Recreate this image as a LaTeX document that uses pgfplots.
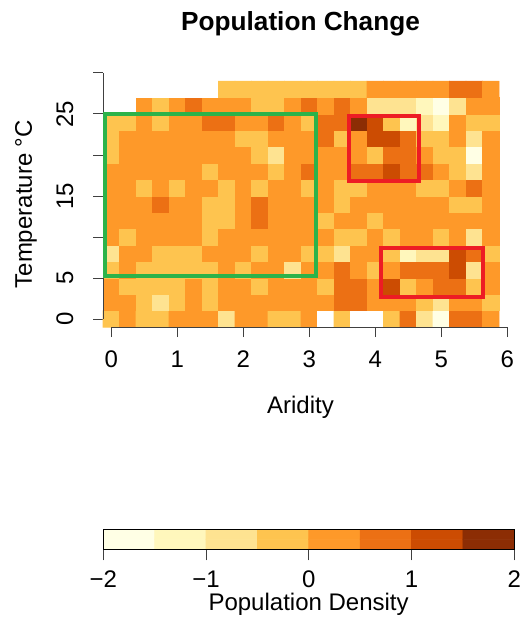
\documentclass[border=0pt]{standalone}
\usepackage{pgfplots}
\pgfplotsset{compat=1.18}
\usepackage{fontspec}
\setmainfont{Liberation Sans}
\definecolor{boxgreen}{RGB}{44,179,74}
\definecolor{boxred}{RGB}{237,28,36}
\pgfplotsset{
  colormap={yob}{rgb255=(255,255,255) rgb255=(255,255,229) rgb255=(255,247,188)
    rgb255=(254,227,145) rgb255=(254,196,79) rgb255=(254,153,41)
    rgb255=(236,112,20) rgb255=(204,76,2) rgb255=(140,45,4)},
}
\newcommand{\lab}{\fontsize{12}{14}\selectfont}
\begin{document}
\begin{tikzpicture}
\path[use as bounding box] (0,0) rectangle (261.5pt,-310.5pt);
% main heat map, 1px = 0.5pt
\begin{axis}[
  at={(51.5pt,-163.6pt)}, anchor=south west,
  x=33pt, y=4.1pt,
  xmin=-0.125, xmax=6, ymin=-1, ymax=30,
  clip=false,
  axis line style={draw=none},
  colormap name=yob,
  xtick={0,...,6}, xticklabels={0,1,2,3,4,5,6},
  ytick={0,5,...,30}, yticklabels={0,5,,15,,25,},
  xtick pos=left, ytick pos=left,
  tick align=outside, major tick length=5pt,
  tick style={black!75, line width=0.5pt},
  every tick label/.append style={font=\lab},
  xticklabel style={anchor=base, yshift=-14.9pt},
  yticklabel style={xshift=-10pt, rotate=90, anchor=base},
]
\addplot[matrix plot*, mesh/cols=24, point meta=explicit, colormap access=direct] coordinates {
(0,0)[4] (0.25,0)[5] (0.5,0)[4] (0.75,0)[4] (1,0)[5] (1.25,0)[5] (1.5,0)[5] (1.75,0)[3] (2,0)[5] (2.25,0)[5] (2.5,0)[4] (2.75,0)[4] (3,0)[5] (3.25,0)[0] (3.5,0)[4] (3.75,0)[0] (4,0)[0] (4.25,0)[4] (4.5,0)[6] (4.75,0)[3] (5,0)[1] (5.25,0)[6] (5.5,0)[6] (5.75,0)[5]
(0,2)[5] (0.25,2)[5] (0.5,2)[4] (0.75,2)[3] (1,2)[4] (1.25,2)[5] (1.5,2)[4] (1.75,2)[5] (2,2)[5] (2.25,2)[5] (2.5,2)[5] (2.75,2)[5] (3,2)[5] (3.25,2)[5] (3.5,2)[6] (3.75,2)[6] (4,2)[5] (4.25,2)[5] (4.5,2)[5] (4.75,2)[4] (5,2)[3] (5.25,2)[5] (5.5,2)[5] (5.75,2)[4]
(0,4)[5] (0.25,4)[4] (0.5,4)[4] (0.75,4)[4] (1,4)[4] (1.25,4)[5] (1.5,4)[4] (1.75,4)[5] (2,4)[5] (2.25,4)[4] (2.5,4)[5] (2.75,4)[5] (3,4)[5] (3.25,4)[4] (3.5,4)[6] (3.75,4)[6] (4,4)[5] (4.25,4)[7] (4.5,4)[4] (4.75,4)[5] (5,4)[6] (5.25,4)[6] (5.5,4)[4] (5.75,4)[5]
(0,6)[4] (0.25,6)[5] (0.5,6)[4] (0.75,6)[4] (1,6)[4] (1.25,6)[4] (1.5,6)[4] (1.75,6)[5] (2,6)[4] (2.25,6)[5] (2.5,6)[5] (2.75,6)[3] (3,6)[5] (3.25,6)[5] (3.5,6)[6] (3.75,6)[5] (4,6)[4] (4.25,6)[5] (4.5,6)[6] (4.75,6)[6] (5,6)[6] (5.25,6)[7] (5.5,6)[3] (5.75,6)[5]
(0,8)[3] (0.25,8)[5] (0.5,8)[5] (0.75,8)[4] (1,8)[4] (1.25,8)[4] (1.5,8)[5] (1.75,8)[5] (2,8)[5] (2.25,8)[4] (2.5,8)[5] (2.75,8)[5] (3,8)[4] (3.25,8)[4] (3.5,8)[3] (3.75,8)[5] (4,8)[5] (4.25,8)[4] (4.5,8)[2] (4.75,8)[3] (5,8)[3] (5.25,8)[7] (5.5,8)[6] (5.75,8)[4]
(0,10)[5] (0.25,10)[4] (0.5,10)[5] (0.75,10)[5] (1,10)[5] (1.25,10)[5] (1.5,10)[4] (1.75,10)[5] (2,10)[5] (2.25,10)[5] (2.5,10)[5] (2.75,10)[5] (3,10)[5] (3.25,10)[5] (3.5,10)[4] (3.75,10)[4] (4,10)[5] (4.25,10)[4] (4.5,10)[5] (4.75,10)[5] (5,10)[4] (5.25,10)[5] (5.5,10)[3] (5.75,10)[5]
(0,12)[5] (0.25,12)[5] (0.5,12)[5] (0.75,12)[5] (1,12)[5] (1.25,12)[5] (1.5,12)[4] (1.75,12)[4] (2,12)[5] (2.25,12)[6] (2.5,12)[5] (2.75,12)[5] (3,12)[5] (3.25,12)[4] (3.5,12)[5] (3.75,12)[5] (4,12)[4] (4.25,12)[5] (4.5,12)[5] (4.75,12)[5] (5,12)[5] (5.25,12)[5] (5.5,12)[5] (5.75,12)[5]
(0,14)[5] (0.25,14)[5] (0.5,14)[5] (0.75,14)[6] (1,14)[5] (1.25,14)[5] (1.5,14)[4] (1.75,14)[4] (2,14)[5] (2.25,14)[6] (2.5,14)[5] (2.75,14)[5] (3,14)[5] (3.25,14)[5] (3.5,14)[4] (3.75,14)[5] (4,14)[5] (4.25,14)[5] (4.5,14)[5] (4.75,14)[5] (5,14)[5] (5.25,14)[4] (5.5,14)[4] (5.75,14)[5]
(0,16)[5] (0.25,16)[5] (0.5,16)[4] (0.75,16)[5] (1,16)[4] (1.25,16)[5] (1.5,16)[5] (1.75,16)[4] (2,16)[5] (2.25,16)[4] (2.5,16)[5] (2.75,16)[5] (3,16)[4] (3.25,16)[5] (3.5,16)[4] (3.75,16)[4] (4,16)[5] (4.25,16)[5] (4.5,16)[5] (4.75,16)[4] (5,16)[4] (5.25,16)[5] (5.5,16)[6] (5.75,16)[5]
(0,18)[5] (0.25,18)[5] (0.5,18)[5] (0.75,18)[5] (1,18)[5] (1.25,18)[5] (1.5,18)[4] (1.75,18)[5] (2,18)[5] (2.25,18)[5] (2.5,18)[4] (2.75,18)[5] (3,18)[6] (3.25,18)[5] (3.5,18)[5] (3.75,18)[6] (4,18)[6] (4.25,18)[7] (4.5,18)[6] (4.75,18)[6] (5,18)[5] (5.25,18)[4] (5.5,18)[3] (5.75,18)[5]
(0,20)[4] (0.25,20)[5] (0.5,20)[5] (0.75,20)[5] (1,20)[5] (1.25,20)[5] (1.5,20)[5] (1.75,20)[5] (2,20)[5] (2.25,20)[4] (2.5,20)[3] (2.75,20)[5] (3,20)[5] (3.25,20)[5] (3.5,20)[5] (3.75,20)[5] (4,20)[4] (4.25,20)[6] (4.5,20)[6] (4.75,20)[5] (5,20)[4] (5.25,20)[4] (5.5,20)[1] (5.75,20)[5]
(0,22)[4] (0.25,22)[5] (0.5,22)[5] (0.75,22)[5] (1,22)[5] (1.25,22)[5] (1.5,22)[5] (1.75,22)[5] (2,22)[4] (2.25,22)[4] (2.5,22)[5] (2.75,22)[5] (3,22)[5] (3.25,22)[6] (3.5,22)[4] (3.75,22)[5] (4,22)[7] (4.25,22)[7] (4.5,22)[6] (4.75,22)[4] (5,22)[4] (5.25,22)[5] (5.5,22)[3] (5.75,22)[5]
(0,24)[4] (0.25,24)[4] (0.5,24)[5] (0.75,24)[4] (1,24)[5] (1.25,24)[5] (1.5,24)[6] (1.75,24)[6] (2,24)[5] (2.25,24)[5] (2.5,24)[6] (2.75,24)[5] (3,24)[4] (3.25,24)[6] (3.5,24)[6] (3.75,24)[8] (4,24)[7] (4.25,24)[4] (4.5,24)[2] (4.75,24)[3] (5,24)[2] (5.25,24)[5] (5.5,24)[4] (5.75,24)[4]
(0,26)[0] (0.25,26)[0] (0.5,26)[5] (0.75,26)[4] (1,26)[5] (1.25,26)[6] (1.5,26)[5] (1.75,26)[5] (2,26)[5] (2.25,26)[4] (2.5,26)[4] (2.75,26)[5] (3,26)[6] (3.25,26)[5] (3.5,26)[6] (3.75,26)[5] (4,26)[3] (4.25,26)[3] (4.5,26)[3] (4.75,26)[2] (5,26)[1] (5.25,26)[3] (5.5,26)[5] (5.75,26)[5]
(0,28)[0] (0.25,28)[0] (0.5,28)[0] (0.75,28)[0] (1,28)[0] (1.25,28)[0] (1.5,28)[0] (1.75,28)[4] (2,28)[4] (2.25,28)[4] (2.5,28)[4] (2.75,28)[4] (3,28)[4] (3.25,28)[4] (3.5,28)[4] (3.75,28)[4] (4,28)[5] (4.25,28)[5] (4.5,28)[5] (4.75,28)[5] (5,28)[5] (5.25,28)[6] (5.5,28)[6] (5.75,28)[5]
};
\draw[black!75, line width=0.5pt] (axis cs:0,-1) -- (axis cs:6,-1);
\draw[black!75, line width=0.5pt] (axis cs:-0.125,0) -- (axis cs:-0.125,30);
% highlighted regions
\draw[boxgreen, line width=2pt] (axis cs:-0.1,5.2) rectangle (axis cs:3.1,25);
\draw[boxred, line width=2pt] (axis cs:3.6,16.8) rectangle (axis cs:4.66,24.75);
\draw[boxred, line width=2pt] (axis cs:4.09,2.72) rectangle (axis cs:5.63,8.7);
\end{axis}
% colour key
\begin{axis}[
  at={(51.65pt,-274.65pt)}, anchor=south west,
  x=51.375pt, y=5pt,
  xmin=-2, xmax=2, ymin=-0.5, ymax=1.5,
  axis on top,
  axis line style={black, line width=0.5pt},
  colormap name=yob,
  xtick={-2,...,2}, xticklabels={−2,−1,0,1,2},
  ytick=\empty, xtick pos=left,
  tick align=outside, major tick length=5.5pt,
  tick style={black!75, line width=0.5pt},
  every tick label/.append style={font=\lab},
  xticklabel style={anchor=base, yshift=-13.6pt},
]
\addplot[matrix plot*, mesh/cols=8, point meta=explicit, colormap access=direct] coordinates {
(-1.75,0)[1] (-1.25,0)[2] (-0.75,0)[3] (-0.25,0)[4] (0.25,0)[5] (0.75,0)[6] (1.25,0)[7] (1.75,0)[8]
(-1.75,1)[1] (-1.25,1)[2] (-0.75,1)[3] (-0.25,1)[4] (0.25,1)[5] (0.75,1)[6] (1.25,1)[7] (1.75,1)[8]
};
\end{axis}
\node[anchor=base, font=\fontsize{13.1}{15}\selectfont\bfseries] at (150.25pt,-15.5pt) {Population Change};
\node[anchor=base, font=\lab] at (150.25pt,-206.5pt) {Aridity};
\node[anchor=base, rotate=90, font=\lab] at (16pt,-102.1pt) {Temperature °C};
\node[anchor=base, font=\lab] at (154.3pt,-305pt) {Population Density};
\end{tikzpicture}
\end{document}
